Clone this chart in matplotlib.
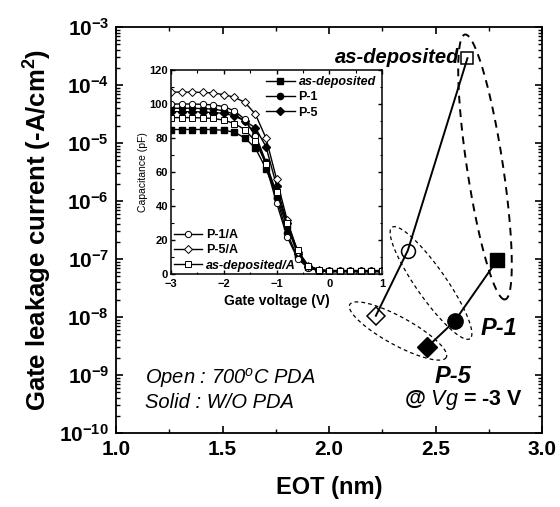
import numpy as np
import matplotlib
matplotlib.use("Agg")
import matplotlib.pyplot as plt
from matplotlib.ticker import MultipleLocator, LogLocator, FuncFormatter, NullFormatter

plt.rcParams['font.family'] = ['Liberation Sans', 'DejaVu Sans']
plt.rcParams['mathtext.fontset'] = 'custom'
plt.rcParams['mathtext.rm'] = 'Liberation Sans'
plt.rcParams['mathtext.it'] = 'Liberation Sans:italic'
plt.rcParams['mathtext.bf'] = 'Liberation Sans:bold'

# ---- leakage current vs EOT (main plot) ----
eot_open = [2.65, 2.37, 2.22]          # as-deposited, P-1, P-5 after 700 C PDA
jg_open = [2.9e-4, 1.4e-7, 1.05e-8]
eot_solid = [2.79, 2.59, 2.46]         # as-deposited, P-1, P-5 without PDA
jg_solid = [9.6e-8, 8.5e-9, 3.0e-9]

# ---- C-V curves (inset) ----
gate_v = [-3.0, -2.8, -2.6, -2.4, -2.2, -2.0, -1.8, -1.6, -1.4, -1.2, -1.0,
          -0.8, -0.6, -0.4, -0.2, 0.0, 0.2, 0.4, 0.6, 0.8, 1.0]
cap_asdep = [85, 85, 85, 85, 85, 84.5, 83.5, 80, 74, 62, 46, 28, 12, 4, 2, 1.5, 1.5, 1.5, 1.5, 1.5, 1.5]
cap_p1 = [97.5, 97.5, 97.5, 97.3, 97, 96, 94, 90, 82, 66, 45, 24, 10, 4, 2, 1.5, 1.5, 1.5, 1.5, 1.5, 1.5]
cap_p5 = [95.5, 95.5, 95.5, 95.3, 95, 94.5, 93, 90, 86, 75, 52, 30, 12, 4, 2, 1.5, 1.5, 1.5, 1.5, 1.5, 1.5]
cap_p1a = [100, 100, 100, 99.8, 99.5, 98.5, 96, 91, 81, 64, 42, 22, 9, 3.5, 2, 1.5, 1.5, 1.5, 1.5, 1.5, 1.5]
cap_p5a = [107, 107, 107, 106.8, 106.5, 105.5, 104, 101, 94, 80, 56, 32, 13, 5, 2.5, 2, 2, 2, 2, 2, 2]
cap_asdepa = [92, 92, 92, 91.8, 91.5, 90.5, 88.5, 85, 78, 65, 48, 30, 14, 5, 2.5, 2, 2, 2, 2, 2, 2]

W, H = 560, 507
fig = plt.figure(figsize=(W / 100, H / 100), dpi=100)

# main axes box in pixels: left, top, right, bottom
ML, MT, MR, MB = 116, 27, 542, 433
ax = fig.add_axes([ML / W, 1 - MB / H, (MR - ML) / W, (MB - MT) / H])
ax.set_xlim(1.0, 3.0)
ax.set_yscale('log')
ax.set_ylim(1e-10, 1e-3)

ax.plot(eot_open, jg_open, '-', color='black', lw=1.4, zorder=3)
ax.plot(eot_solid, jg_solid, '-', color='black', lw=1.4, zorder=3)
for x, y, m, s in zip(eot_open, jg_open, ['s', 'o', 'D'], [9, 10, 9]):
    ax.plot([x], [y], marker=m, ms=s, mfc='none', mec='black', mew=1.1, zorder=4)
for x, y, m, s in zip(eot_solid, jg_solid, ['s', 'o', 'D'], [10, 11, 10]):
    ax.plot([x], [y], marker=m, ms=s, mfc='black', mec='black', zorder=4)


def ellipse(cx, cy, a, b, ang, lw, dashes):
    t = np.linspace(0, 2 * np.pi, 400)
    th = np.deg2rad(ang)
    px = cx + a * np.cos(t) * np.cos(th) - b * np.sin(t) * np.sin(th)
    py = cy + a * np.cos(t) * np.sin(th) + b * np.sin(t) * np.cos(th)
    fx = (px - ML) / (MR - ML)
    fy = 1 - (py - MT) / (MB - MT)
    ax.plot(fx, fy, transform=ax.transAxes, color='black', lw=lw,
            dashes=dashes, zorder=2, clip_on=False)


ellipse(485, 167, 134, 18, 81.4, 1.4, (4, 3))
ellipse(431, 283, 68, 15, 55, 0.9, (3, 2.5))
ellipse(398, 331, 55, 14, 28.7, 0.9, (3, 2.5))

ax.xaxis.set_major_locator(MultipleLocator(0.5))
ax.xaxis.set_minor_locator(MultipleLocator(0.25))
ax.xaxis.set_major_formatter(FuncFormatter(lambda v, p: f"{v:.1f}"))
ax.yaxis.set_major_locator(LogLocator(base=10, numticks=20))
ax.yaxis.set_minor_locator(LogLocator(base=10, subs=np.arange(2, 10), numticks=20))
ax.yaxis.set_minor_formatter(NullFormatter())
ax.yaxis.set_major_formatter(FuncFormatter(lambda v, p: r"$\mathbf{10^{%d}}$" % round(np.log10(v))))
ax.tick_params(which='both', direction='in', top=True, right=True)
ax.tick_params(which='major', length=5, width=1.2, labelsize=15, pad=5)
ax.tick_params(which='minor', length=3, width=1.0)
for lab in ax.get_xticklabels():
    lab.set_fontweight('bold')
for sp in ax.spines.values():
    sp.set_linewidth(1.3)

ax.set_xlabel('EOT (nm)', fontsize=17, fontweight='bold', labelpad=12)
ax.set_ylabel(r'Gate leakage current (-A/cm$^\mathbf{2}$)', fontsize=18.5,
              fontweight='bold', labelpad=4)

ax.text(2.61, 10 ** -3.52, 'as-deposited', fontsize=14.5, fontweight='bold',
        style='italic', ha='right', va='center')
ax.text(2.80, 10 ** -8.19, 'P-1', fontsize=17, fontweight='bold', style='italic',
        ha='center', va='center')
ax.text(2.58, 10 ** -9.03, 'P-5', fontsize=17, fontweight='bold', style='italic',
        ha='center', va='center')
ax.text(2.91, 10 ** -9.43, r'@ $\mathbf{\it{Vg}}$ = -3 V', fontsize=15.5,
        fontweight='bold', ha='right', va='center')
ax.text(1.136, 10 ** -9.05, r'Open : 700$^o$C PDA', fontsize=14.5, style='italic',
        ha='left', va='center')
ax.text(1.136, 10 ** -9.48, 'Solid : W/O PDA', fontsize=14.5, style='italic',
        ha='left', va='center')

# ---- inset ----
IL, IT, IR, IB = 171, 70, 382, 274
ins = fig.add_axes([IL / W, 1 - IB / H, (IR - IL) / W, (IB - IT) / H])
ins.set_xlim(-3, 1)
ins.set_ylim(0, 120)
ms_in = 4.5
h1, = ins.plot(gate_v, cap_asdep, '-s', color='black', ms=ms_in, lw=1.0)
h2, = ins.plot(gate_v, cap_p1, '-o', color='black', ms=ms_in, lw=1.0)
h3, = ins.plot(gate_v, cap_p5, '-D', color='black', ms=ms_in, lw=1.0)
h4, = ins.plot(gate_v, cap_p1a, '-o', color='black', mfc='white', ms=ms_in, lw=1.0, mew=0.7)
h5, = ins.plot(gate_v, cap_p5a, '-D', color='black', mfc='white', ms=ms_in, lw=1.0, mew=0.7)
h6, = ins.plot(gate_v, cap_asdepa, '-s', color='black', mfc='white', ms=ms_in, lw=1.0, mew=0.7)

ins.xaxis.set_major_locator(MultipleLocator(1))
ins.xaxis.set_minor_locator(MultipleLocator(0.5))
ins.yaxis.set_major_locator(MultipleLocator(20))
ins.yaxis.set_minor_locator(MultipleLocator(10))
ins.tick_params(which='both', direction='in', top=True, right=True)
ins.tick_params(which='major', length=3, width=1.0, labelsize=8, pad=2)
ins.tick_params(axis='x', which='major', pad=3.5)
ins.tick_params(which='minor', length=1.8, width=0.8)
for lab in ins.get_xticklabels() + ins.get_yticklabels():
    lab.set_fontweight('bold')
for sp in ins.spines.values():
    sp.set_linewidth(1.1)
ins.set_xlabel('Gate voltage (V)', fontsize=10, fontweight='bold', labelpad=4)
ins.set_ylabel('Capacitance (pF)', fontsize=7.5, labelpad=1)

leg_kw = dict(frameon=False, fontsize=9, handlelength=2.3,
              labelspacing=0.25, handletextpad=0.3, borderpad=0.2)
leg1 = ins.legend([h1, h2, h3], ['as-deposited', 'P-1', 'P-5'], loc='upper right',
                  borderaxespad=0.3, **leg_kw)
for t, it in zip(leg1.get_texts(), [True, False, False]):
    t.set_fontweight('bold')
    if it:
        t.set_style('italic')
ins.add_artist(leg1)
leg2 = ins.legend([h4, h5, h6], ['P-1/A', 'P-5/A', 'as-deposited/A'], loc='lower left',
                  borderaxespad=0.0, **leg_kw)
for t, it in zip(leg2.get_texts(), [False, False, True]):
    t.set_fontweight('bold')
    if it:
        t.set_style('italic')

fig.savefig('out.png', dpi=100)
